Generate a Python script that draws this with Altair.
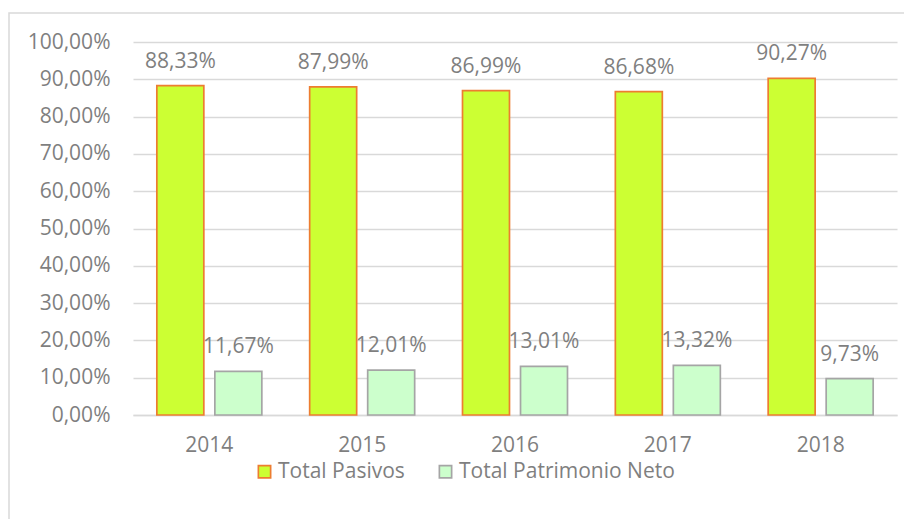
import altair as alt
import pandas as pd

years = ["2014", "2015", "2016", "2017", "2018"]
pasivos = [0.8833, 0.8799, 0.8699, 0.8668, 0.9027]
patrimonio = [0.1167, 0.1201, 0.1301, 0.1332, 0.0973]
series = ["Total Pasivos", "Total Patrimonio Neto"]

rows = []
for i, y in enumerate(years):
    rows.append({"year": y, "serie": series[0], "value": pasivos[i]})
    rows.append({"year": y, "serie": series[1], "value": patrimonio[i]})
df = pd.DataFrame(rows)

FONT = "Open Sans"
GRAY = "#7f7f7f"
FS = 21
W, H = 764, 373

base = alt.Chart(df).encode(
    x=alt.X("year:N", sort=years, title=None,
            scale=alt.Scale(paddingInner=0.313, paddingOuter=0.156),
            axis=alt.Axis(labelAngle=0, labelFontSize=FS, labelColor=GRAY, labelFont=FONT,
                          ticks=False, domainColor="#d9d9d9", domainWidth=1.3,
                          labelPadding=19)),
    xOffset=alt.XOffset("serie:N", sort=series, scale=alt.Scale(paddingInner=0.19)),
    y=alt.Y("value:Q", title=None,
            scale=alt.Scale(domain=[0, 1], nice=False),
            axis=alt.Axis(values=[i / 10 for i in range(11)],
                          labelExpr="replace(format(datum.value, '.2%'), '.', ',')",
                          labelFontSize=FS, labelColor=GRAY, labelFont=FONT,
                          ticks=False, domain=False, gridColor="#d9d9d9", gridWidth=1.3,
                          labelPadding=23)),
)

bars = base.mark_bar(strokeWidth=1.7).encode(
    color=alt.Color("serie:N", sort=series, title=None,
                    scale=alt.Scale(domain=series, range=["#ccff33", "#ccffcc"]),
                    legend=alt.Legend(orient="none", legendX=121, legendY=419,
                                      direction="horizontal", symbolType="square",
                                      symbolSize=150, symbolStrokeWidth=1.7,
                                      labelFontSize=FS, labelColor=GRAY, labelFont=FONT,
                                      labelLimit=400, columnPadding=30, labelOffset=3)),
    stroke=alt.Stroke("serie:N", sort=series,
                      scale=alt.Scale(domain=series, range=["#ed7d31", "#a5a5a5"]),
                      legend=None),
)

labels = base.mark_text(baseline="alphabetic", dy=-18, fontSize=FS, color=GRAY, font=FONT).transform_calculate(
    label="replace(format(datum.value, '.2%'), '.', ',')"
).encode(text="label:N")

frame = alt.Chart(pd.DataFrame({"a": [0]})).mark_rect(
    fill=None, stroke="#d9d9d9", strokeWidth=1.5, clip=False
).encode(x=alt.value(-124), x2=alt.value(W + 40), y=alt.value(-29), y2=alt.value(H + 200))

chart = alt.layer(frame, bars, labels).properties(
    width=W, height=H,
    autosize=alt.AutoSizeParams(type="none"),
    padding={"left": 125, "top": 34, "right": 7, "bottom": 104},
).configure_view(stroke=None)

chart.save("out.html", embed_options={"renderer": "svg", "actions": False})
